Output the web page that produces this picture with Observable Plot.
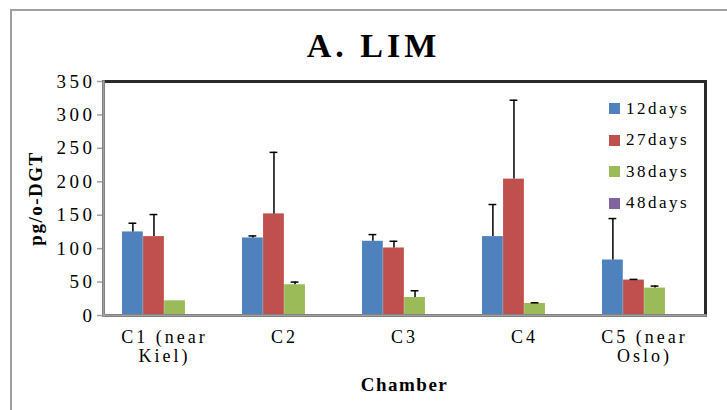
<!DOCTYPE html>
<html><head><meta charset="utf-8">
<script src="https://cdn.jsdelivr.net/npm/d3@7"></script>
<script src="https://cdn.jsdelivr.net/npm/@observablehq/plot@0.6"></script>
<style>
html,body{margin:0;padding:0;background:#fff}
body{width:727px;height:410px;overflow:hidden;position:relative;font-family:"Liberation Serif","Times New Roman",serif}
#border{position:absolute;left:10px;top:9px;width:740px;height:420px;border-top:2px solid #a0a0a0;border-left:2px solid #a0a0a0;pointer-events:none}
#title{height:70px;position:relative}
#title span{position:absolute;left:20px;width:707px;top:30px;line-height:32px;text-align:center;font-weight:bold;font-size:34px;letter-spacing:4px;color:#000}
#legend{position:absolute;left:609px;top:93px;font-size:17px;letter-spacing:2.5px;color:#000}
#legend .row{height:31.5px;display:flex;align-items:center}
#legend .sw{width:11px;height:11px;margin-right:6px}
#chart svg text{letter-spacing:1.5px}
#chart svg g.xticks text{letter-spacing:3px}
#chart svg g.yticks text{letter-spacing:3.5px}
</style></head>
<body>
<div id="title"><span>A. LIM</span></div>
<div id="chart"></div>
<div id="legend"></div>
<div id="border"></div>
<script>
const chambers = ["C1 (near Kiel)", "C2", "C3", "C4", "C5 (near Oslo)"];
const chamberLabels = ["C1 (near\nKiel)", "C2", "C3", "C4", "C5 (near\nOslo)"];
const series = ["12days", "27days", "38days", "48days"];
const colors = ["#4F81BD", "#C0504D", "#9BBB59", "#8064A2"];
const values12 = [125, 116, 111, 118, 83];
const values27 = [118, 152, 101, 204, 53];
const values38 = [22, 46, 27, 18, 41];
const values48 = [null, null, null, null, null];
const err12 = [13, 3, 10, 48, 62];
const err27 = [33, 92, 10, 118, 1];
const err38 = [0, 4, 10, 1, 3];
const err48 = [0, 0, 0, 0, 0];
const yTicks = [0, 50, 100, 150, 200, 250, 300, 350];

const vals = [values12, values27, values38, values48];
const errs = [err12, err27, err38, err48];
const rows = [];
series.forEach((s, si) => chambers.forEach((c, ci) => {
  const v = vals[si][ci];
  if (v != null) rows.push({chamber: c, series: s, si, value: v, err: errs[si][ci]});
}));
const labelOf = Object.fromEntries(chambers.map((c, i) => [c, chamberLabels[i]]));

// layout
const width = 727, height = 340, mL = 103, mR = 22, mT = 11, mB = 95;
const pInner = 0.3, pOuter = 0.15;
const step = (width - mL - mR) / (chambers.length - pInner + 2 * pOuter);
const band = step * (1 - pInner);
const bw = band / series.length;

const seriesMarks = series.flatMap((s, si) => {
  const data = rows.filter(d => d.series === s);
  const errData = data.filter(d => d.err > 0);
  const off = (si - (series.length - 1) / 2) * bw;
  return [
    Plot.barY(data, {x: "chamber", y: "value", fill: "series", insetLeft: si * bw, insetRight: (series.length - 1 - si) * bw}),
    Plot.ruleX(errData, {x: "chamber", y1: "value", y2: d => d.value + d.err, dx: off, stroke: "#000", strokeWidth: 1.5}),
    Plot.tickY(errData, {x: "chamber", y: d => d.value + d.err, stroke: "#000", strokeWidth: 1.5,
      insetLeft: si * bw + 6.5, insetRight: (series.length - 1 - si) * bw + 6.5})
  ];
});

const plot = Plot.plot({
  width, height,
  marginTop: mT, marginBottom: mB, marginLeft: mL, marginRight: mR,
  style: {fontFamily: "'Liberation Serif','Times New Roman',serif", background: "transparent", color: "#000"},
  x: {domain: chambers, paddingInner: pInner, paddingOuter: pOuter, axis: null},
  y: {domain: [0, 350], axis: null},
  color: {domain: series, range: colors},
  marks: [
    ...seriesMarks,
    Plot.axisY(yTicks, {tickSize: 6, tickPadding: 2, stroke: "#a0a0a0", strokeWidth: 1.5, fontSize: 19, label: null, className: "yticks"}),
    Plot.axisX({tickFormat: d => labelOf[d], tickSize: 0, tickPadding: 14, fontSize: 18, lineHeight: 1.07, label: null, className: "xticks"}),
    Plot.text(["pg/o-DGT"], {frameAnchor: "left", textAnchor: "middle", lineAnchor: "middle", rotate: -90, dx: -68, fontSize: 19, fontWeight: "bold", fill: "#000"}),
    Plot.text(["Chamber"], {frameAnchor: "bottom", textAnchor: "middle", lineAnchor: "middle", dy: 69, fontSize: 19, fontWeight: "bold", fill: "#000"}),
    Plot.frame({stroke: "#2a2a2a", strokeWidth: 3}),
    Plot.frame({anchor: "left", stroke: "#a0a0a0", strokeWidth: 2.5}),
    Plot.frame({anchor: "bottom", stroke: "#a0a0a0", strokeWidth: 2.5})
  ]
});
document.getElementById("chart").appendChild(plot);

const legend = d3.select("#legend");
series.forEach((s, i) => {
  const r = legend.append("div").attr("class", "row");
  r.append("div").attr("class", "sw").style("background", colors[i]);
  r.append("span").text(s);
});
</script>
</body></html>
